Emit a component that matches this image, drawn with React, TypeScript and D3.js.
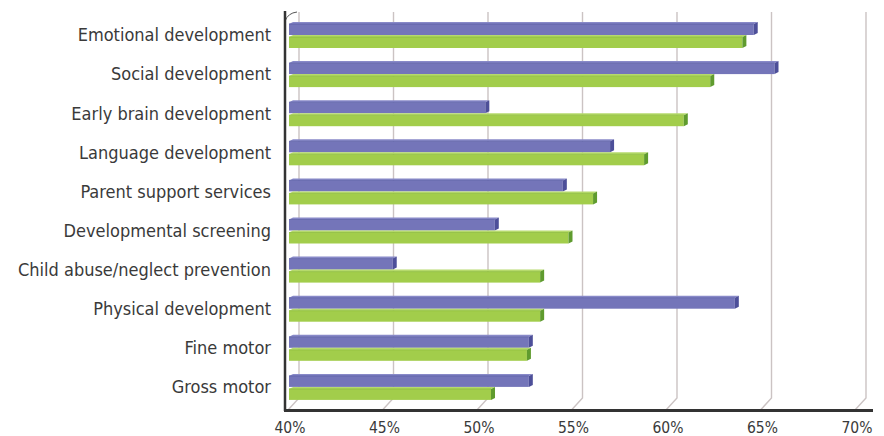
import React from "react";
import * as d3 from "d3";

const categories = [
  "Emotional development",
  "Social development",
  "Early brain development",
  "Language development",
  "Parent support services",
  "Developmental screening",
  "Child abuse/neglect prevention",
  "Physical development",
  "Fine motor",
  "Gross motor",
];
const seriesA = [64.8, 65.9, 50.6, 57.2, 54.7, 51.1, 45.7, 63.8, 52.9, 52.9];
const seriesB = [64.2, 62.5, 61.1, 59.0, 56.3, 55.0, 53.5, 53.5, 52.8, 50.9];
const tickValues = [40, 45, 50, 55, 60, 65, 70];
const seriesKeys = ["a", "b"];

const W = 884;
const H = 436;
const FONT = "'DejaVu Sans Condensed', 'DejaVu Sans', sans-serif";

const COLORS: Record<string, { front: string; top: string; side: string; edge: string }> = {
  a: { front: "#7475b9", top: "#8889c8", side: "#4d4f99", edge: "#5b5da6" },
  b: { front: "#a2cd4b", top: "#b6da6c", side: "#5f9b2e", edge: "#8cbb3a" },
};

export default function App() {
  const x = d3.scaleLinear().domain([40, 70]).range([289, 856]);
  const y = d3
    .scaleBand<string>()
    .domain(categories)
    .range([15.45, 406.45])
    .paddingInner(0.335)
    .paddingOuter(0.1675);
  const ys = d3.scaleBand<string>().domain(seriesKeys).range([0, y.bandwidth()]);

  const floorY = 410;
  const wallBottom = 398;
  const wallTop = 12;
  const depthX = 10;
  const d = 4;

  const bars: React.ReactNode[] = [];
  categories.forEach((c, i) => {
    seriesKeys.forEach((k) => {
      const v = k === "a" ? seriesA[i] : seriesB[i];
      const col = COLORS[k];
      const x0 = x(40);
      const xe = x(v);
      const yt = (y(c) as number) + (ys(k) as number);
      const yb = yt + ys.bandwidth();
      bars.push(
        <g key={c + k}>
          <rect x={x0} y={yt + 2} width={xe - d - x0} height={yb - yt - 2} fill={col.front} />
          <polygon
            points={`${x0},${yt + 2} ${x0 + d},${yt} ${xe},${yt} ${xe - d},${yt + 2}`}
            fill={col.top}
          />
          <polygon
            points={`${xe - d},${yt + 2} ${xe},${yt} ${xe},${yb - 2} ${xe - d},${yb}`}
            fill={col.side}
          />
          <line x1={x0} x2={xe - d} y1={yt + 2} y2={yt + 2} stroke={col.edge} strokeWidth={0.8} />
        </g>
      );
    });
  });

  const textStyle: React.CSSProperties = { fontStretch: "condensed" };

  return (
    <svg
      width={W}
      height={H}
      style={{ position: "absolute", left: 0, top: 0, background: "#ffffff" }}
    >
      {tickValues.map((t) => (
        <path
          key={"g" + t}
          d={`M${x(t) + depthX},${wallTop} L${x(t) + depthX},${wallBottom} L${x(t) - 1},${floorY}`}
          fill="none"
          stroke="#cbc3c3"
          strokeWidth={1.4}
        />
      ))}
      <path d={`M285,21 Q288,13 297,12`} fill="none" stroke="#555" strokeWidth={1} />
      {bars}
      <line x1={285} x2={285} y1={11} y2={411} stroke="#333" strokeWidth={2.5} />
      <line x1={284} x2={873} y1={410.5} y2={410.5} stroke="#333" strokeWidth={3} />
      {categories.map((c) => (
        <text
          key={"l" + c}
          x={271}
          y={(y(c) as number) + y.bandwidth() / 2}
          dy="0.35em"
          textAnchor="end"
          fontFamily={FONT}
          fontSize={18}
          fill="#3a3a3a"
          style={textStyle}
        >
          {c}
        </text>
      ))}
      {tickValues.map((t) => (
        <text
          key={"t" + t}
          x={x(t) + 1}
          y={433}
          textAnchor="middle"
          fontFamily={FONT}
          fontSize={15.5}
          fill="#3a3a3a"
          style={textStyle}
        >
          {t}%
        </text>
      ))}
    </svg>
  );
}
